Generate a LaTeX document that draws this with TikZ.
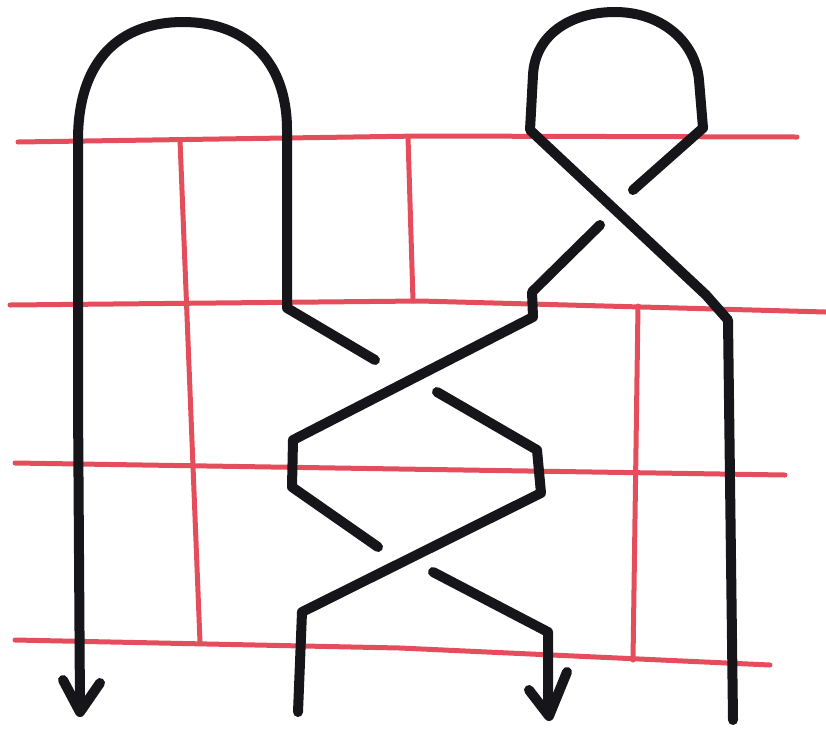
\documentclass[tikz,border=0pt]{standalone}
\definecolor{gridred}{RGB}{228,78,92}
\definecolor{ink}{RGB}{22,22,26}
\begin{document}
\begin{tikzpicture}[x=1pt,y=-1pt,
  redline/.style={gridred,line width=5pt,line cap=round,line join=round},
  strand/.style={ink,line width=10pt,line cap=round,line join=round}]
\useasboundingbox (0,0) rectangle (826,729);
% red grid
\draw[redline] (18,142) -- (420,136) -- (797,137);
\draw[redline] (10,305) -- (420,301) -- (826,312);
\draw[redline] (15,463) -- (785,475);
\draw[redline] (15,640) -- (400,648) -- (770,665);
\draw[redline] (180,140) -- (200,642);
\draw[redline] (408,137) -- (413,301);
\draw[redline] (638,306) -- (633,660);
% strand A (left loop)
\draw[strand] (80,708) -- (78,400) -- (78,140)
  .. controls (78,60) and (120,22) .. (183,22)
  .. controls (245,22) and (287,60) .. (287,130)
  -- (287,308) -- (375,360);
\draw[strand] (437,392) -- (537,450) -- (541,493) -- (302,612) -- (298,712);
\draw[strand] (63,680) -- (80,712) -- (100,683);
% strand B
\draw[strand] (548,712) -- (548,632) -- (433,572);
\draw[strand] (378,547) -- (292,487) -- (293,440) -- (533,317) -- (532,292) -- (600,225);
\draw[strand] (529,690) -- (549,716) -- (567,672);
% strand C (right loop)
\draw[strand] (633,190) -- (703,128) -- (699,80)
  .. controls (695,40) and (660,12) .. (615,12)
  .. controls (570,12) and (535,35) .. (533,75)
  -- (530,130) -- (706,295) -- (728,320) -- (733,720);
\end{tikzpicture}
\end{document}
